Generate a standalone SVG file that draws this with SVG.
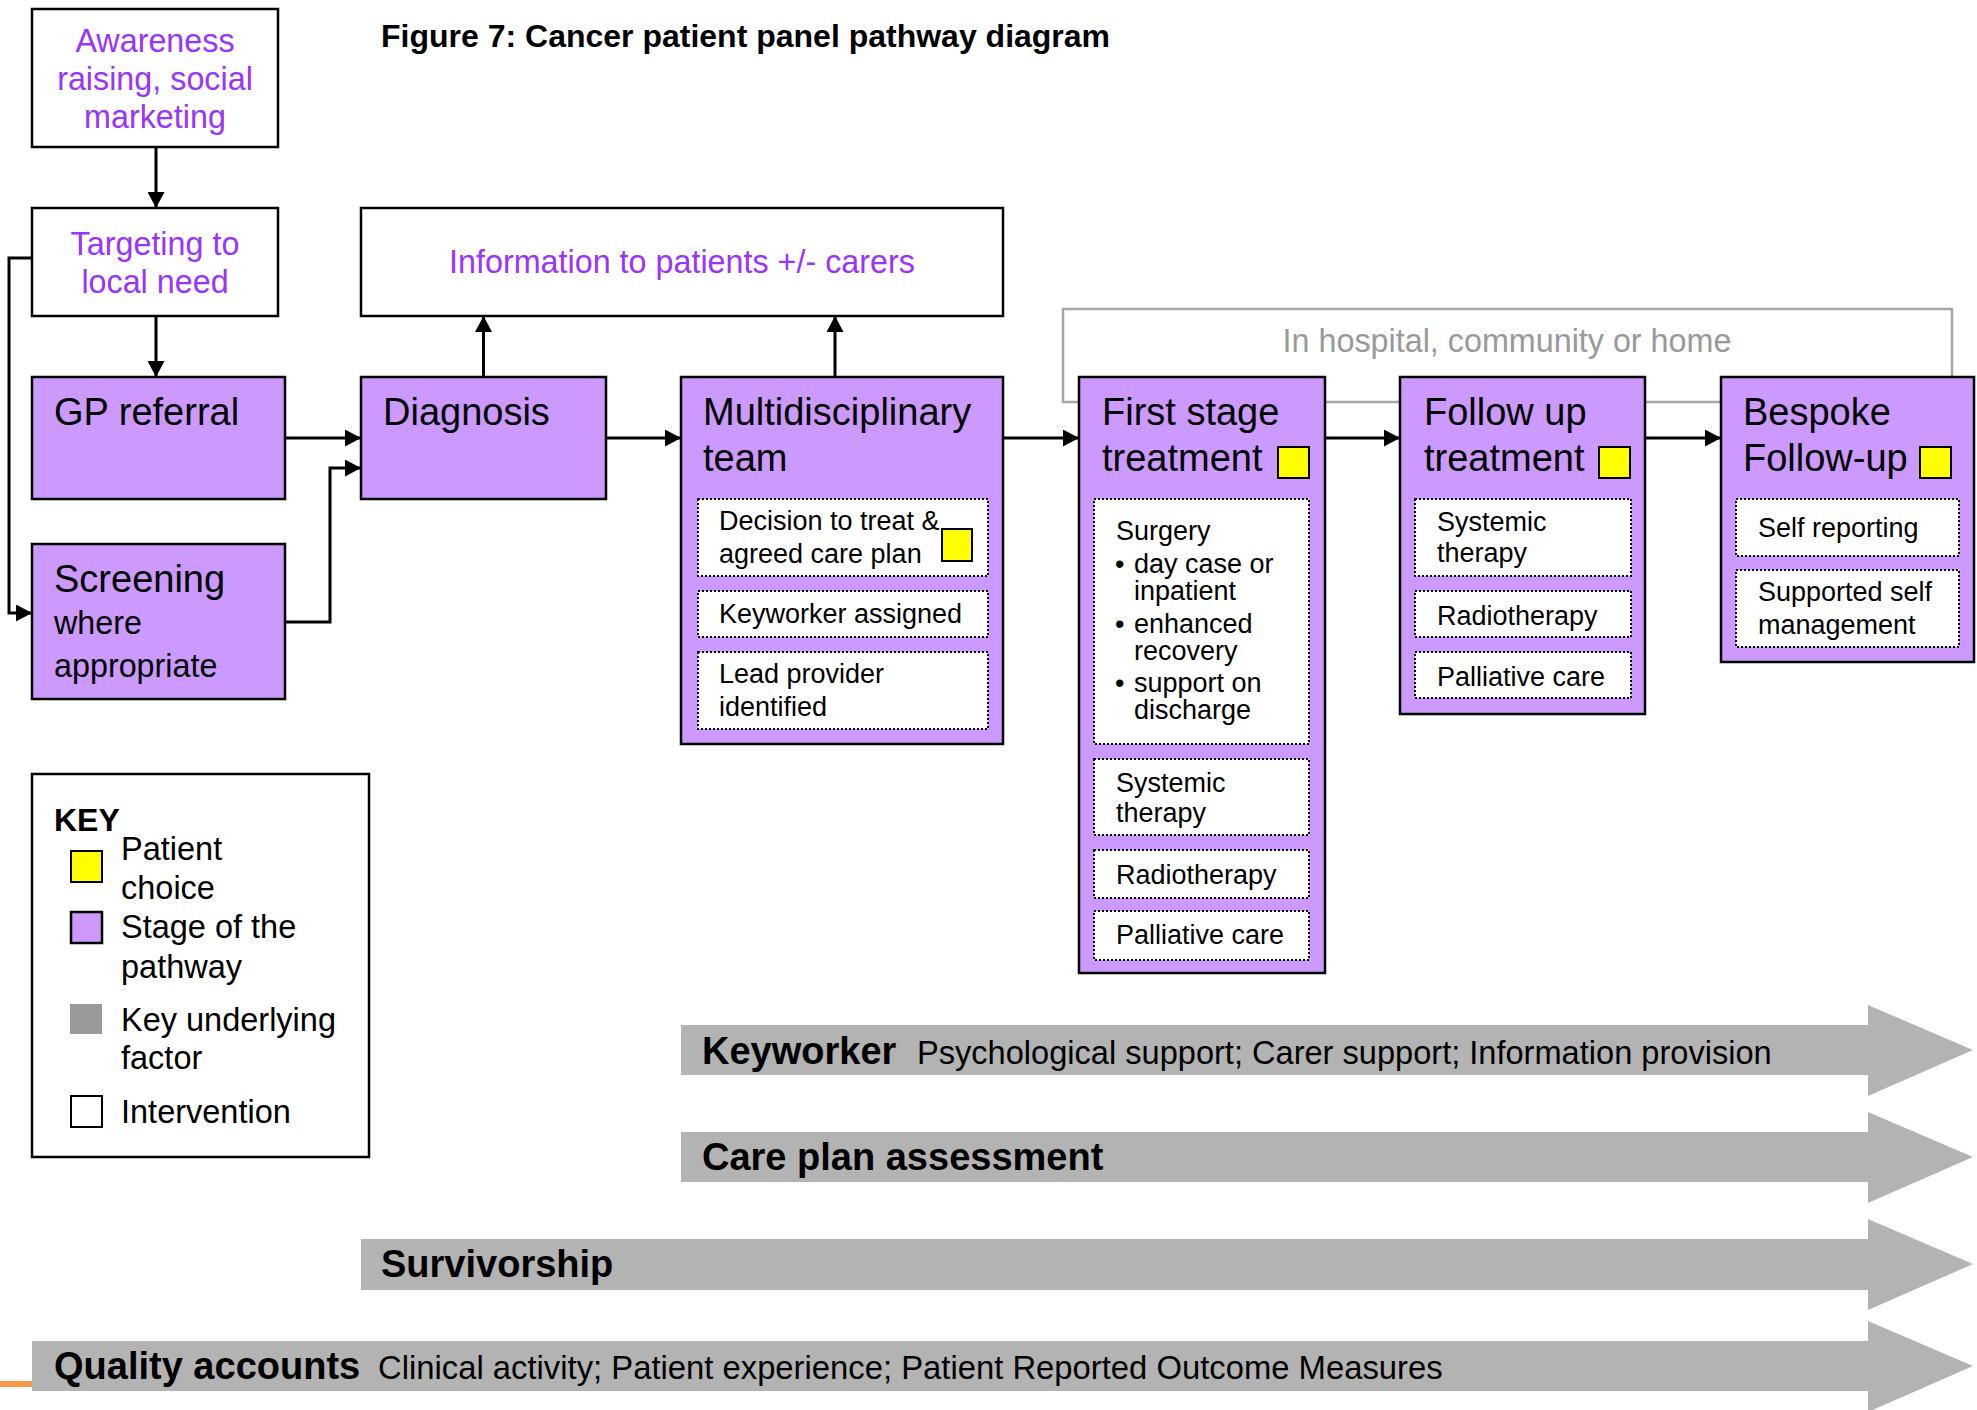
<svg xmlns="http://www.w3.org/2000/svg" width="1977" height="1410" viewBox="0 0 1977 1410">
  <style>
    text { font-family: "Liberation Sans", Arial, sans-serif; fill: #000; }
    .stage { fill: #cc99ff; stroke: #000; stroke-width: 2.5; }
    .interv { fill: #fff; stroke: #000; stroke-width: 2.5; }
    .sub { fill: #fff; stroke: #000; stroke-width: 2; stroke-dasharray: 2 2; }
    .choice { fill: #ffff00; stroke: #000; stroke-width: 2; }
    .purple { fill: #9933ff; font-size: 32.3px; }
    .head { font-size: 38px; }
    .small { font-size: 27px; }
    .key { font-size: 32.5px; }
    .band { fill: #b3b3b3; }
    .bold { font-weight: bold; }
    .conn { fill: none; stroke: #000; stroke-width: 3; marker-end: url(#arrow); }
  </style>
  <defs>
    <marker id="arrow" markerUnits="userSpaceOnUse" markerWidth="17" markerHeight="17" refX="16" refY="8.5" orient="auto">
      <path d="M0,0 L16,8.5 L0,17 z" fill="#000"/>
    </marker>
  </defs>

  <rect width="1977" height="1410" fill="#fff"/>

  <!-- title -->
  <text x="381" y="47" class="bold" font-size="32">Figure 7: Cancer patient panel pathway diagram</text>

  <!-- setting frame behind the treatment stages -->
  <g id="setting">
    <rect x="1063" y="309" width="889" height="93" fill="#fff" stroke="#a6a6a6" stroke-width="2.5"/>
    <text x="1507" y="352" font-size="32.3" text-anchor="middle" style="fill:#999999">In hospital, community or home</text>
  </g>

  <!-- connectors -->
  <g id="connectors">
    <path class="conn" d="M156,147 V208"/>
    <path class="conn" d="M156,316 V377"/>
    <path class="conn" d="M32,258 H9 V613 H32"/>
    <path class="conn" d="M285,438 H361"/>
    <path class="conn" d="M285,622 H330 V468 H361"/>
    <path class="conn" d="M483.5,377 V316"/>
    <path class="conn" d="M835,377 V316"/>
    <path class="conn" d="M606,438 H681"/>
    <path class="conn" d="M1003,438 H1079"/>
    <path class="conn" d="M1325,438 H1400"/>
    <path class="conn" d="M1645,438 H1721"/>
  </g>

  <!-- interventions -->
  <g id="awareness">
    <rect class="interv" x="32" y="9" width="246" height="138"/>
    <text class="purple" text-anchor="middle"><tspan x="155" y="52">Awareness</tspan><tspan x="155" y="90">raising, social</tspan><tspan x="155" y="128">marketing</tspan></text>
  </g>
  <g id="targeting">
    <rect class="interv" x="32" y="208" width="246" height="108"/>
    <text class="purple" text-anchor="middle"><tspan x="155" y="255">Targeting to</tspan><tspan x="155" y="293">local need</tspan></text>
  </g>
  <g id="information">
    <rect class="interv" x="361" y="208" width="642" height="108"/>
    <text class="purple" x="682" y="273" text-anchor="middle">Information to patients +/- carers</text>
  </g>

  <!-- pathway stages -->
  <g id="gp-referral">
    <rect class="stage" x="32" y="377" width="253" height="122"/>
    <text class="head" x="54" y="425">GP referral</text>
  </g>
  <g id="screening">
    <rect class="stage" x="32" y="544" width="253" height="155"/>
    <text class="head" x="54" y="592">Screening</text>
    <text font-size="32.3"><tspan x="54" y="634">where</tspan><tspan x="54" y="677">appropriate</tspan></text>
  </g>
  <g id="diagnosis">
    <rect class="stage" x="361" y="377" width="245" height="122"/>
    <text class="head" x="383" y="425">Diagnosis</text>
  </g>

  <g id="mdt">
    <rect class="stage" x="681" y="377" width="322" height="367"/>
    <text class="head"><tspan x="703" y="425">Multidisciplinary</tspan><tspan x="703" y="471">team</tspan></text>
    <rect class="sub" x="698" y="499" width="290" height="77"/>
    <text class="small"><tspan x="719" y="530">Decision to treat &amp;</tspan><tspan x="719" y="563">agreed care plan</tspan></text>
    <rect class="choice" x="942" y="529" width="30" height="32"/>
    <rect class="sub" x="698" y="591" width="290" height="46"/>
    <text class="small" x="719" y="623">Keyworker assigned</text>
    <rect class="sub" x="698" y="652" width="290" height="77"/>
    <text class="small"><tspan x="719" y="683">Lead provider</tspan><tspan x="719" y="716">identified</tspan></text>
  </g>

  <g id="first-stage">
    <rect class="stage" x="1079" y="377" width="246" height="596"/>
    <text class="head"><tspan x="1102" y="425">First stage</tspan><tspan x="1102" y="471">treatment</tspan></text>
    <rect class="choice" x="1278" y="447" width="31" height="31"/>
    <rect class="sub" x="1094" y="499" width="215" height="245"/>
    <text class="small"><tspan x="1116" y="540">Surgery</tspan></text>
    <text class="small">
      <tspan x="1115" y="573">•</tspan><tspan x="1134" y="573">day case or</tspan><tspan x="1134" y="600">inpatient</tspan>
      <tspan x="1115" y="633">•</tspan><tspan x="1134" y="633">enhanced</tspan><tspan x="1134" y="660">recovery</tspan>
      <tspan x="1115" y="692">•</tspan><tspan x="1134" y="692">support on</tspan><tspan x="1134" y="719">discharge</tspan>
    </text>
    <rect class="sub" x="1094" y="759" width="215" height="76"/>
    <text class="small"><tspan x="1116" y="792">Systemic</tspan><tspan x="1116" y="822">therapy</tspan></text>
    <rect class="sub" x="1094" y="850" width="215" height="48"/>
    <text class="small" x="1116" y="884">Radiotherapy</text>
    <rect class="sub" x="1094" y="911" width="215" height="49"/>
    <text class="small" x="1116" y="944">Palliative care</text>
  </g>

  <g id="follow-up">
    <rect class="stage" x="1400" y="377" width="245" height="337"/>
    <text class="head"><tspan x="1424" y="425">Follow up</tspan><tspan x="1424" y="471">treatment</tspan></text>
    <rect class="choice" x="1599" y="447" width="31" height="31"/>
    <rect class="sub" x="1415" y="499" width="216" height="77"/>
    <text class="small"><tspan x="1437" y="531">Systemic</tspan><tspan x="1437" y="562">therapy</tspan></text>
    <rect class="sub" x="1415" y="591" width="216" height="46"/>
    <text class="small" x="1437" y="625">Radiotherapy</text>
    <rect class="sub" x="1415" y="652" width="216" height="46"/>
    <text class="small" x="1437" y="686">Palliative care</text>
  </g>

  <g id="bespoke">
    <rect class="stage" x="1721" y="377" width="253" height="285"/>
    <text class="head"><tspan x="1743" y="425">Bespoke</tspan><tspan x="1743" y="471">Follow-up</tspan></text>
    <rect class="choice" x="1920" y="447" width="31" height="31"/>
    <rect class="sub" x="1736" y="499" width="223" height="57"/>
    <text class="small" x="1758" y="537">Self reporting</text>
    <rect class="sub" x="1736" y="570" width="223" height="77"/>
    <text class="small"><tspan x="1758" y="601">Supported self</tspan><tspan x="1758" y="634">management</tspan></text>
  </g>

  <!-- key -->
  <g id="key">
    <rect x="32" y="774" width="337" height="383" fill="#fff" stroke="#000" stroke-width="2.5"/>
    <text class="bold" font-size="32" x="54" y="831">KEY</text>
    <rect class="choice" x="71" y="851" width="31" height="31"/>
    <text class="key"><tspan x="121" y="860">Patient</tspan><tspan x="121" y="899">choice</tspan></text>
    <rect class="stage" x="71" y="912" width="31" height="31" stroke-width="2"/>
    <text class="key"><tspan x="121" y="938">Stage of the</tspan><tspan x="121" y="978">pathway</tspan></text>
    <rect x="70" y="1004" width="32" height="30" fill="#999999"/>
    <text class="key"><tspan x="121" y="1031">Key underlying</tspan><tspan x="121" y="1069">factor</tspan></text>
    <rect x="71" y="1096" width="31" height="31" fill="#fff" stroke="#000" stroke-width="2"/>
    <text class="key" x="121" y="1123">Intervention</text>
  </g>

  <!-- underlying factors -->
  <g id="keyworker-band">
    <path class="band" d="M681,1025 H1868 V1005 L1973,1050 L1868,1096 V1075 H681 z"/>
    <text x="702" y="1064"><tspan class="bold" font-size="38">Keyworker</tspan><tspan x="917" font-size="32.6">Psychological support; Carer support; Information provision</tspan></text>
  </g>
  <g id="care-plan-band">
    <path class="band" d="M681,1132 H1868 V1112 L1973,1157 L1868,1203 V1182 H681 z"/>
    <text class="bold" font-size="38" x="702" y="1170">Care plan assessment</text>
  </g>
  <g id="survivorship-band">
    <path class="band" d="M361,1239 H1868 V1219 L1973,1264 L1868,1310 V1290 H361 z"/>
    <text class="bold" font-size="38" x="381" y="1277">Survivorship</text>
  </g>
  <g id="quality-band">
    <rect x="0" y="1381" width="32" height="6" fill="#f79646"/>
    <path class="band" d="M32,1341 H1868 V1321 L1973,1366 L1868,1412 V1391 H32 z"/>
    <text x="54" y="1379"><tspan class="bold" font-size="38">Quality accounts</tspan><tspan x="378" font-size="32.8">Clinical activity; Patient experience; Patient Reported Outcome Measures</tspan></text>
  </g>
</svg>
